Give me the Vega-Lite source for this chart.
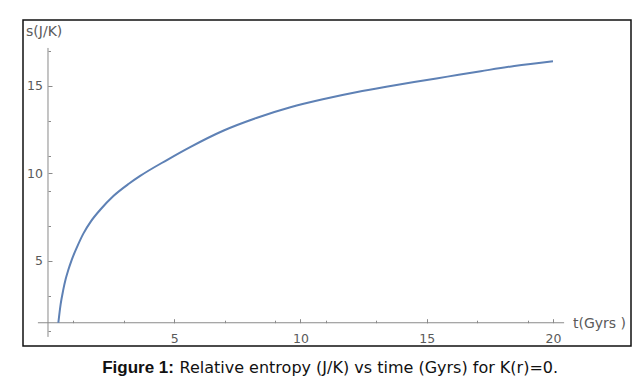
{
  "$schema": "https://vega.github.io/schema/vega-lite/v6.json",
  "width": 608,
  "height": 326,
  "autosize": {"type": "none"},
  "padding": {"left": 23, "top": 20, "right": 10, "bottom": 37},
  "background": "white",
  "config": {
    "view": {"stroke": "#111111", "strokeWidth": 1.5},
    "font": "DejaVu Sans"
  },
  "datasets": {
    "curve": [
      {"t": 0.41, "s": 1.45},
      {"t": 0.5, "s": 2.5},
      {"t": 0.6, "s": 3.3},
      {"t": 0.7, "s": 3.95},
      {"t": 0.8, "s": 4.45},
      {"t": 0.94, "s": 5.05},
      {"t": 1.14, "s": 5.75},
      {"t": 1.4, "s": 6.55},
      {"t": 1.7, "s": 7.25},
      {"t": 2.06, "s": 7.9},
      {"t": 2.59, "s": 8.7},
      {"t": 3.2, "s": 9.4},
      {"t": 3.65, "s": 9.85},
      {"t": 4.71, "s": 10.76},
      {"t": 5.63, "s": 11.5},
      {"t": 6.96, "s": 12.45},
      {"t": 8.28, "s": 13.18},
      {"t": 9.6, "s": 13.78},
      {"t": 10.93, "s": 14.25},
      {"t": 12.25, "s": 14.65},
      {"t": 13.57, "s": 14.99},
      {"t": 14.5, "s": 15.22},
      {"t": 15.82, "s": 15.53},
      {"t": 17.14, "s": 15.84},
      {"t": 18.47, "s": 16.14},
      {"t": 20.0, "s": 16.41}
    ],
    "one": [{"k": 1}]
  },
  "resolve": {"axis": {"x": "independent", "y": "independent"}},
  "layer": [
    {
      "data": {"name": "one"},
      "layer": [
        {
          "mark": {"type": "rule", "color": "#8a8a8a", "strokeWidth": 1},
          "encoding": {
            "x": {
              "datum": -0.4,
              "type": "quantitative",
              "axis": {
                "orient": "bottom",
                "values": [1,2,3,4,5,6,7,8,9,10,11,12,13,14,15,16,17,18,19,20],
                "labels": false,
                "domain": false,
                "grid": false,
                "offset": -23.3,
                "tickColor": "#8a8a8a",
                "tickWidth": 1,
                "tickSize": -2.5,
                "title": null
              }
            },
            "x2": {"datum": 20.44},
            "y": {
              "datum": 1.45,
              "type": "quantitative",
              "axis": {
                "orient": "left",
                "values": [1,2,3,4,5,6,7,8,9,10,11,12,13,14,15,16,17],
                "labels": false,
                "domain": false,
                "grid": false,
                "offset": -25,
                "tickColor": "#8a8a8a",
                "tickWidth": 1,
                "tickSize": -2.5,
                "title": null
              }
            }
          }
        },
        {
          "mark": {"type": "rule", "color": "#8a8a8a", "strokeWidth": 1},
          "encoding": {
            "x": {"datum": 0, "type": "quantitative"},
            "y": {"datum": 0.64, "type": "quantitative"},
            "y2": {"datum": 17.17}
          }
        },
        {
          "mark": {"type": "text", "align": "left", "baseline": "middle", "fontSize": 14, "color": "#5a5a5a", "font": "DejaVu Sans"},
          "encoding": {
            "x": {"datum": -0.87, "type": "quantitative"},
            "y": {"datum": 18.08, "type": "quantitative"},
            "text": {"value": "s(J/K)"}
          }
        },
        {
          "mark": {"type": "text", "align": "left", "baseline": "middle", "fontSize": 14, "color": "#5a5a5a", "font": "DejaVu Sans"},
          "encoding": {
            "x": {"datum": 20.79, "type": "quantitative"},
            "y": {"datum": 1.38, "type": "quantitative"},
            "text": {"value": "t(Gyrs )"}
          }
        }
      ]
    },
    {
      "data": {"name": "curve"},
      "mark": {"type": "line", "color": "#5E81B5", "strokeWidth": 2, "interpolate": "monotone", "clip": false},
      "encoding": {
        "x": {
          "field": "t",
          "type": "quantitative",
          "scale": {"domain": [-0.99, 23.089], "nice": false, "zero": false},
          "axis": {
            "orient": "bottom",
            "values": [5, 10, 15, 20],
            "labelOverlap": false,
            "domain": false,
            "grid": false,
            "offset": -23.3,
            "tickColor": "#8a8a8a",
            "tickWidth": 1,
            "tickSize": -4,
            "labelPadding": 13.5,
            "labelFont": "DejaVu Sans",
            "labelFontSize": 12.5,
            "labelColor": "#5a5a5a",
            "labelFlush": false,
            "title": "Relative entropy (J/K) vs time (Gyrs) for K(r)=0.",
            "titleX": 156,
            "titleY": 49.3,
            "titleAlign": "left",
            "titleAnchor": null,
            "titleBaseline": "alphabetic",
            "titleFont": "DejaVu Sans",
            "titleFontSize": 16,
            "titleFontWeight": "normal",
            "titleColor": "#111111"
          }
        },
        "y": {
          "field": "s",
          "type": "quantitative",
          "scale": {"domain": [0.12, 18.77], "nice": false, "zero": false},
          "axis": {
            "orient": "left",
            "values": [5, 10, 15],
            "labelOverlap": false,
            "domain": false,
            "grid": false,
            "offset": -25,
            "tickColor": "#8a8a8a",
            "tickWidth": 1,
            "tickSize": -4,
            "labelPadding": 9.5,
            "labelFont": "DejaVu Sans",
            "labelFontSize": 12.5,
            "labelColor": "#5a5a5a",
            "labelFlush": false,
            "title": "Figure 1:",
            "titleAngle": 0,
            "titleX": 53.7,
            "titleY": 352,
            "titleAlign": "left",
            "titleAnchor": null,
            "titleBaseline": "alphabetic",
            "titleFont": "Liberation Sans",
            "titleFontSize": 17,
            "titleFontWeight": "bold",
            "titleColor": "#111111"
          }
        }
      }
    }
  ]
}
